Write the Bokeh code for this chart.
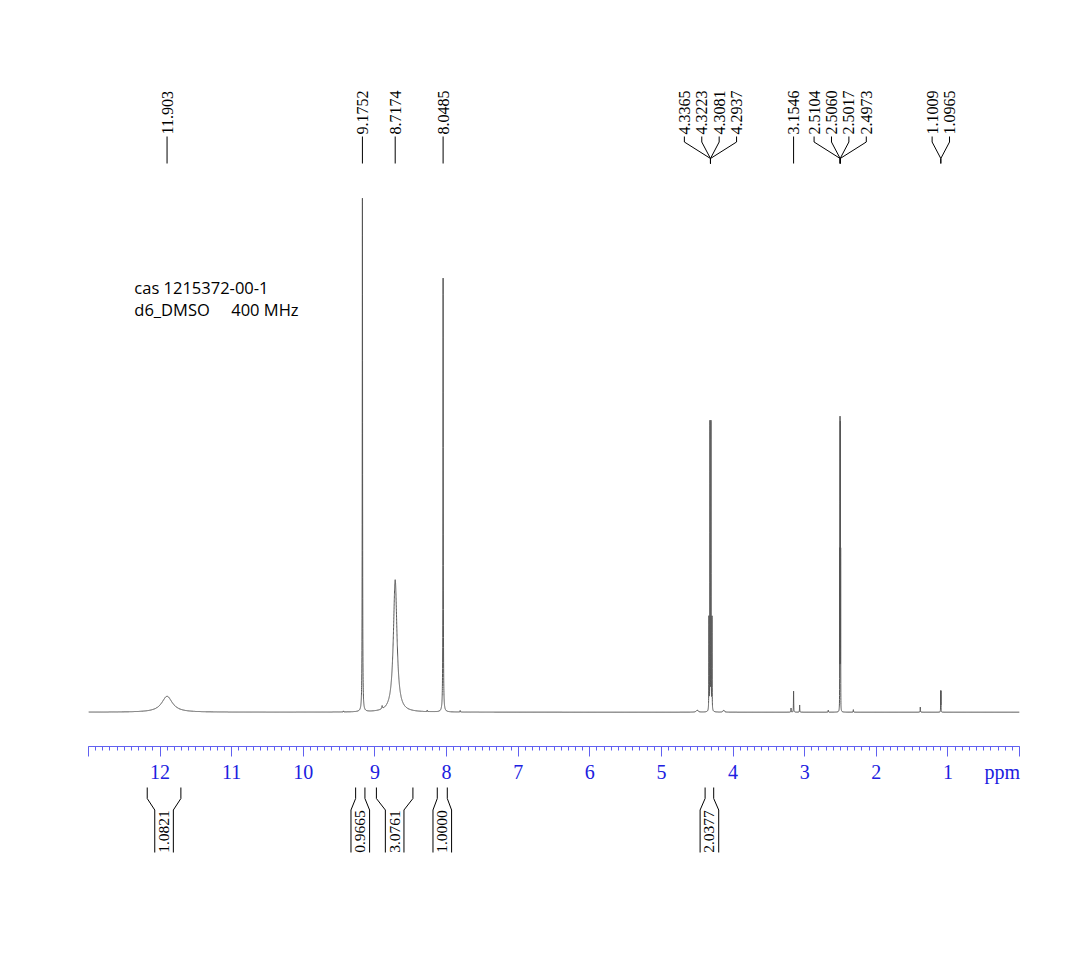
import numpy as np
from bokeh.plotting import figure
from bokeh.models import Range1d, FixedTicker, Label, LinearAxis
from bokeh.layouts import column
from bokeh.embed import file_html
from bokeh.resources import INLINE
from bokeh.core.properties import value

# ---------------- data ----------------
# peak list: chemical shift (ppm), relative height (tallest = 100), line width FWHM (ppm)
peak_ppm = [11.903, 9.1752, 8.7174, 8.0485,
            4.3365, 4.3223, 4.3081, 4.2937,
            3.1546, 2.5104, 2.5060, 2.5017, 2.4973,
            1.1009, 1.0965,
            9.44, 8.90, 8.27, 7.81, 4.50, 4.13, 3.19, 3.07, 2.67, 2.32, 1.385]
peak_height = [3.1, 100.0, 25.8, 84.5,
               18.0, 56.0, 56.0, 18.0,
               4.1, 30.0, 55.0, 54.0, 30.0,
               4.0, 4.0,
               0.2, 0.6, 0.3, 0.3, 0.4, 0.4, 0.8, 1.4, 0.4, 0.5, 1.0]
peak_fwhm = [0.18, 0.005, 0.06, 0.005,
             0.003, 0.003, 0.003, 0.003,
             0.004, 0.0015, 0.0015, 0.0015, 0.0015,
             0.002, 0.002,
             0.004, 0.01, 0.004, 0.004, 0.03, 0.02, 0.004, 0.004, 0.004, 0.004, 0.004]

# peak-pick labels, grouped by multiplet
label_groups = [["11.903"], ["9.1752"], ["8.7174"], ["8.0485"],
                ["4.3365", "4.3223", "4.3081", "4.2937"],
                ["3.1546"],
                ["2.5104", "2.5060", "2.5017", "2.4973"],
                ["1.1009", "1.0965"]]

# integrals
int_start = [12.18, 9.27, 8.98, 8.13, 4.39]
int_end = [11.71, 9.14, 8.47, 7.99, 4.27]
int_value = ["1.0821", "0.9665", "3.0761", "1.0000", "2.0377"]

axis_ticks = list(range(0, 14))
label_ticks = list(range(1, 13))
unit_label = "ppm"
unit_pos = 0.24

title_lines = ["cas 1215372-00-1", "d6_DMSO\u00a0\u00a0\u00a0\u00a0\u00a0400 MHz"]

# ---------------- spectrum ----------------
grid = np.union1d(np.linspace(0, 13, 26001), np.array(peak_ppm))
spec = np.zeros_like(grid)
for c, h, w in zip(peak_ppm, peak_height, peak_fwhm):
    spec += h / (1.0 + ((grid - c) / (w / 2.0)) ** 2)

W = 1076
LEFT, RIGHT = 88, 57
TOP_H, MID_H = 170, 616
BOT_H = 953 - TOP_H - MID_H

xr = Range1d(13, 0)
SERIF = value("Liberation Serif")
LINE_C = "#555555"
AX_C = "#6060f0"
LAB_C = "#2020e0"


def base_fig(h, yr, mb=0, xat=None):
    f = figure(width=W, height=h, x_range=xr, y_range=yr, output_backend="svg",
               toolbar_location=None, min_border_left=LEFT, min_border_right=RIGHT,
               min_border_top=0, min_border_bottom=mb,
               x_axis_type=xat, y_axis_type=None)
    f.outline_line_color = None
    f.grid.visible = False
    f.background_fill_color = "white"
    f.border_fill_color = "white"
    return f


# ---------------- top: peak labels ----------------
top = base_fig(TOP_H, Range1d(TOP_H, 0))
SP = 0.243
tx, ty, tt = [], [], []
lx, ly = [], []
for g in label_groups:
    vals = [float(v) for v in g]
    c = float(np.mean(vals))
    n = len(g)
    for k, lab in enumerate(g):
        x = c + ((n - 1) / 2.0 - k) * SP
        tx.append(x)
        ty.append(134)
        tt.append(lab)
        if n == 1:
            lx.append([x, x])
            ly.append([136, 163])
        else:
            lx.append([x, x, c, c])
            ly.append([136, 141.5, 158, 163])
top.text(x=tx, y=ty, text=tt, angle=np.pi / 2, text_align="left", text_baseline="middle",
         text_font=SERIF, text_font_size="16px", text_color="black")
top.multi_line(xs=lx, ys=ly, line_color="black", line_width=1)

# ---------------- middle: spectrum ----------------
PXU = 5.134  # pixels per intensity unit
mid = base_fig(MID_H, Range1d((711.7 - 746) / PXU, (711.7 - 170) / PXU), mb=40, xat="linear")
mid.line(grid, spec, line_color=LINE_C, line_width=1)

ax = mid.xaxis[0]
ax.ticker = FixedTicker(ticks=axis_ticks, minor_ticks=list(np.round(np.arange(0, 13.01, 0.1), 2)))
ax.axis_line_color = AX_C
ax.major_tick_line_color = AX_C
ax.minor_tick_line_color = AX_C
ax.major_tick_in = 0
ax.major_tick_out = 10
ax.minor_tick_in = 0
ax.minor_tick_out = 4
ax.major_label_standoff = 0
ax.major_label_text_font_size = "0px"
ax.major_label_overrides = {t: "" for t in axis_ticks}

lab_ax = LinearAxis(ticker=FixedTicker(ticks=label_ticks + [unit_pos], minor_ticks=[]))
lab_ax.major_label_overrides = {unit_pos: unit_label}
lab_ax.axis_line_color = None
lab_ax.major_tick_line_color = None
lab_ax.minor_tick_line_color = None
lab_ax.major_tick_in = 0
lab_ax.major_tick_out = 0
lab_ax.major_label_standoff = 4
lab_ax.major_label_text_font = "Liberation Serif"
lab_ax.major_label_text_font_size = "20px"
lab_ax.major_label_text_color = LAB_C
mid.add_layout(lab_ax, "below")

for i, line in enumerate(title_lines):
    mid.add_layout(Label(x=12.36, y=(711.7 - (287 + 21.5 * i)) / PXU, text=line,
                         text_align="left", text_baseline="alphabetic",
                         text_font="Open Sans", text_font_size="16.5px", text_color="black"))

# ---------------- bottom: integrals ----------------
y0 = TOP_H + MID_H
bot = base_fig(BOT_H, Range1d(y0 + BOT_H, y0))
HB = 9.3 / 71.6
bx, by = [], []
ix, iy, it = [], [], []
for a, b, v in zip(int_start, int_end, int_value):
    m = (a + b) / 2.0
    bx.append([a, a, m + HB, m + HB])
    by.append([787, 798, 809.5, 852])
    bx.append([b, b, m - HB, m - HB])
    by.append([787, 798, 809.5, 852])
    ix.append(m)
    iy.append(831)
    it.append(v)
bot.multi_line(xs=bx, ys=by, line_color="black", line_width=1)
bot.text(x=ix, y=iy, text=it, angle=np.pi / 2, text_align="center", text_baseline="middle",
         text_font=SERIF, text_font_size="15.5px", text_color="black")

layout = column(top, mid, bot)
open("out.html", "w").write(file_html(layout, INLINE))
